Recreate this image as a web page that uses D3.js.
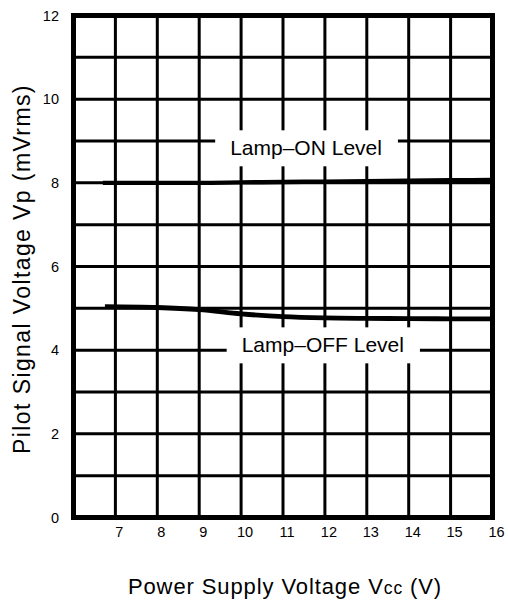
<!DOCTYPE html>
<html>
<head>
<meta charset="utf-8">
<script src="https://cdn.jsdelivr.net/npm/d3@7"></script>
<style>
  html, body { margin: 0; padding: 0; background: #fff; }
  svg { display: block; }
  text { font-family: "Liberation Sans", Arial, Helvetica, sans-serif; fill: #000; }
</style>
</head>
<body>
<svg id="chart" width="508" height="601"></svg>
<script>
// ---- data ----
const xTickValues = [7, 8, 9, 10, 11, 12, 13, 14, 15, 16];
const yTickValues = [0, 2, 4, 6, 8, 10, 12];
const xGridValues = [7, 8, 9, 10, 11, 12, 13, 14, 15];
const yGridValues = [1, 2, 3, 4, 5, 6, 7, 8, 9, 10, 11];

const lampOnVcc   = [6.7, 8, 9, 10, 11, 12, 13, 14, 15, 16];
const lampOnVp    = [8.0, 8.0, 8.0, 8.01, 8.02, 8.03, 8.04, 8.05, 8.06, 8.07];

const lampOffVcc  = [6.75, 8, 9, 10, 11, 12, 13, 14, 15, 16];
const lampOffVp   = [5.04, 5.02, 4.97, 4.87, 4.8, 4.77, 4.76, 4.755, 4.75, 4.75];

const labelTexts  = ["Lamp\u2013ON Level", "Lamp\u2013OFF Level"];
const labelVcc    = [11.55, 11.95];
const labelVp     = [8.67, 3.96];

const xTitle = ["Power Supply Voltage V", "cc", " (V)"];
const yTitle = "Pilot Signal Voltage Vp (mVrms)";

// ---- layout ----
const svg = d3.select("#chart");
const pL = 73.5, pR = 492.5, pT = 15.5, pB = 517.5;

const x = d3.scaleLinear().domain([6, 16]).range([pL, pR]);
const y = d3.scaleLinear().domain([0, 12]).range([pB, pT]);

const g = svg.append("g");

// grid
g.append("g").selectAll("line").data(xGridValues).join("line")
  .attr("x1", d => x(d)).attr("x2", d => x(d))
  .attr("y1", pT).attr("y2", pB)
  .attr("stroke", "#000").attr("stroke-width", 3);
g.append("g").selectAll("line").data(yGridValues).join("line")
  .attr("y1", d => y(d)).attr("y2", d => y(d))
  .attr("x1", pL).attr("x2", pR)
  .attr("stroke", "#000").attr("stroke-width", 3);

// curves
const line = d3.line().x(d => x(d[0])).y(d => y(d[1])).curve(d3.curveMonotoneX);
const onData = lampOnVcc.map((v, i) => [v, lampOnVp[i]]);
const offData = lampOffVcc.map((v, i) => [v, lampOffVp[i]]);
g.append("path").datum(onData).attr("d", line)
  .attr("fill", "none").attr("stroke", "#000").attr("stroke-width", 4.4);
g.append("path").datum(offData).attr("d", line)
  .attr("fill", "none").attr("stroke", "#000").attr("stroke-width", 4.8);

// labels with white knock-out boxes
const labels = labelTexts.map((t, i) => ({ t, vx: labelVcc[i], vy: labelVp[i] }));
labels.forEach(l => {
  const grp = g.append("g");
  const rect = grp.append("rect").attr("fill", "#fff");
  const txt = grp.append("text")
    .attr("x", x(l.vx)).attr("y", y(l.vy))
    .attr("text-anchor", "middle")
    .attr("font-size", 21)
    .text(l.t);
  const bb = txt.node().getBBox();
  const base = y(l.vy);
  rect.attr("x", bb.x - 15).attr("width", bb.width + 31)
      .attr("y", base - 24.5).attr("height", 36);
});

// frame
g.append("rect")
  .attr("x", pL).attr("y", pT)
  .attr("width", pR - pL).attr("height", pB - pT)
  .attr("fill", "none").attr("stroke", "#000").attr("stroke-width", 5);

// x tick labels
svg.append("g").selectAll("text").data(xTickValues).join("text")
  .attr("x", d => x(d) + 4)
  .attr("y", 537)
  .attr("text-anchor", "middle")
  .attr("font-size", 14.5)
  .text(d => d);

// y tick labels
svg.append("g").selectAll("text").data(yTickValues).join("text")
  .attr("x", 59)
  .attr("y", d => y(d) + 5)
  .attr("text-anchor", "end")
  .attr("font-size", 14.5)
  .text(d => d);

// x title
const xt = svg.append("text")
  .attr("x", 285).attr("y", 594)
  .attr("text-anchor", "middle")
  .attr("font-size", 22)
  .attr("letter-spacing", 0.9);
xt.append("tspan").text(xTitle[0]);
xt.append("tspan").attr("font-size", 17.5).text(xTitle[1]);
xt.append("tspan").text(xTitle[2]);

// y title
svg.append("text")
  .attr("transform", `translate(30,${269}) rotate(-90)`)
  .attr("text-anchor", "middle")
  .attr("font-size", 23)
  .attr("letter-spacing", 1.4)
  .text(yTitle);
</script>
</body>
</html>
